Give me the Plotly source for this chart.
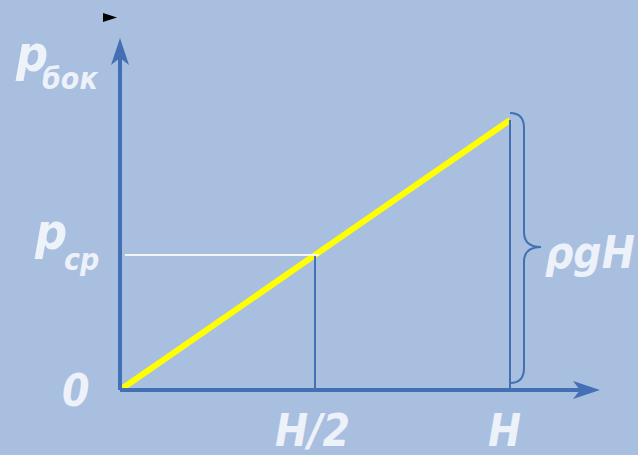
import plotly.graph_objects as go

# Hydrostatic side pressure on a vertical wall: p grows linearly with depth
depth = [0.0, 1.0]            # 0 .. H
pressure = [0.0, 1.0]         # 0 .. rho*g*H
half_depth = 0.5              # H/2
p_avg = 0.5                   # p_cp = rho*g*H/2
x_tick_labels = ["0", "H/2", "H"]

W, HT = 638, 455
# pixel <-> data mapping (axes are hidden, everything is drawn in data space)
X0_PX, Y0_PX = 120, 390
SX, SY = 390.0, 270.0
x_range = [-X0_PX / SX, (W - X0_PX) / SX]
y_range = [-(HT - Y0_PX) / SY, Y0_PX / SY]


def dx(px):
    return (px - X0_PX) / SX


def dy(py):
    return (Y0_PX - py) / SY


AXIS = "#4370b5"
TEXT = "rgba(247,249,253,0.88)"
BG = "#a9bfdf"

fig = go.Figure()
fig.add_trace(go.Scatter(x=depth, y=pressure, mode="lines",
                         line=dict(color="#ffff00", width=6), hoverinfo="skip"))

shapes = []
# guide lines
shapes.append(dict(type="line", xref="x", yref="y", x0=half_depth, x1=half_depth,
                   y0=0, y1=p_avg, line=dict(color=AXIS, width=2)))
shapes.append(dict(type="line", xref="x", yref="y", x0=dx(125), x1=half_depth + dx(124) - dx(120),
                   y0=p_avg, y1=p_avg, line=dict(color="rgba(255,255,255,0.85)", width=2)))
shapes.append(dict(type="line", xref="x", yref="y", x0=depth[1], x1=depth[1],
                   y0=0, y1=pressure[1], line=dict(color=AXIS, width=2)))

# axes with arrow heads
x_end, y_end = dx(600), dy(38)
shapes.append(dict(type="line", xref="x", yref="y", x0=0, x1=x_end - 20 / SX,
                   y0=0, y1=0, line=dict(color=AXIS, width=4)))
shapes.append(dict(type="line", xref="x", yref="y", x0=0, x1=0,
                   y0=0, y1=y_end - 20 / SY, line=dict(color=AXIS, width=4)))


def path(pts):
    s = ""
    for cmd, coords in pts:
        s += cmd + " " + " ".join(f"{v:.5f}" for v in coords) + " "
    return s + "Z"


tx, ty = X0_PX, 38
shapes.append(dict(type="path", xref="x", yref="y", fillcolor=AXIS, line=dict(width=0),
                   path=path([("M", (dx(tx), dy(ty))), ("L", (dx(tx + 9), dy(ty + 27))),
                              ("L", (dx(tx), dy(ty + 20))), ("L", (dx(tx - 9), dy(ty + 27)))])))
ax_x, ax_y = 600, Y0_PX
shapes.append(dict(type="path", xref="x", yref="y", fillcolor=AXIS, line=dict(width=0),
                   path=path([("M", (dx(ax_x), dy(ax_y))), ("L", (dx(ax_x - 27), dy(ax_y - 9))),
                              ("L", (dx(ax_x - 20), dy(ax_y))), ("L", (dx(ax_x - 27), dy(ax_y + 9)))])))

# curly brace spanning rho*g*H
bx, bt, bb, bm = 510, 113, 383, 247
brace = (f"M {dx(bx)} {dy(bt)} Q {dx(bx+14)} {dy(bt)} {dx(bx+14)} {dy(bt+15)} "
         f"L {dx(bx+14)} {dy(bm-15)} Q {dx(bx+14)} {dy(bm)} {dx(bx+31)} {dy(bm)} "
         f"Q {dx(bx+14)} {dy(bm)} {dx(bx+14)} {dy(bm+15)} "
         f"L {dx(bx+14)} {dy(bb-15)} Q {dx(bx+14)} {dy(bb)} {dx(bx)} {dy(bb)}")
shapes.append(dict(type="path", xref="x", yref="y", path=brace,
                   line=dict(color=AXIS, width=2)))

# small black pointer marker
shapes.append(dict(type="path", xref="x", yref="y", fillcolor="black", line=dict(width=0),
                   path=path([("M", (dx(103), dy(13))), ("L", (dx(117), dy(17.5))),
                              ("L", (dx(103), dy(22)))])))

FONT = "DejaVu Sans Condensed, Liberation Sans, Arial, sans-serif"


def label(text, px, py, size):
    fig.add_annotation(x=dx(px), y=dy(py), xref="x", yref="y", text=text, showarrow=False,
                       xanchor="center", yanchor="middle",
                       font=dict(family=FONT, size=size, color=TEXT, weight="bold", style="italic"))


label("p", 31, 54, 50)
label("бок", 70, 78, 30)
label("p", 50, 232, 50)
label("cp", 81, 259, 30)
label(x_tick_labels[0], 76, 390, 44)
label(x_tick_labels[1], 312, 430, 44)
label(x_tick_labels[2], 504, 430, 44)
label("ρgH", 590, 252, 44)

fig.update_layout(width=W, height=HT, margin=dict(l=0, r=0, t=0, b=0),
                  paper_bgcolor=BG, plot_bgcolor=BG, showlegend=False, shapes=shapes,
                  xaxis=dict(visible=False, range=x_range, fixedrange=True),
                  yaxis=dict(visible=False, range=y_range, fixedrange=True))
fig.write_html("out.html")
